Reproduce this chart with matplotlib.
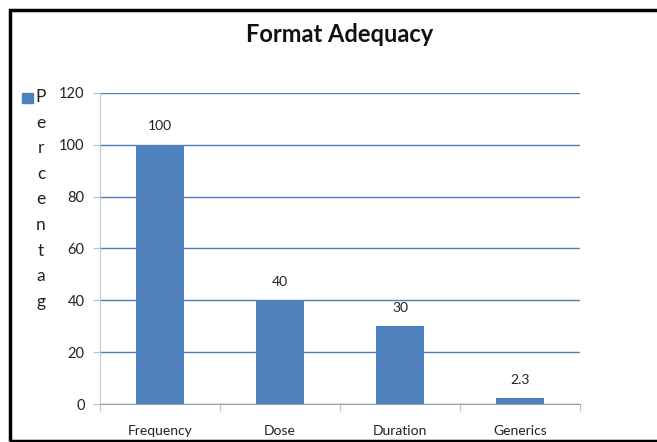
import matplotlib
matplotlib.use("Agg")
import matplotlib.pyplot as plt
from matplotlib.patches import Rectangle

categories = ["Frequency", "Dose", "Duration", "Generics"]
values = [100, 40, 30, 2.3]
value_labels = ["100", "40", "30", "2.3"]
yticks = [0, 20, 40, 60, 80, 100, 120]
title = "Format Adequacy"
legend_label = "Percentag"

plt.rcParams["font.family"] = ["Lato", "DejaVu Sans"]

BAR = "#4f81bd"
GRID = "#4a7ebb"
TXT = "#222222"

W, H = 657, 442
fig = plt.figure(figsize=(W / 100, H / 100), dpi=100)
ax = fig.add_axes([100 / W, 1 - 404 / H, 480 / W, 311 / H])

x = list(range(len(categories)))
ax.bar(x, values, width=0.4, color=BAR, zorder=3)
for xi, v, lab in zip(x, values, value_labels):
    ax.annotate(lab, (xi, v), xytext=(0, 9), textcoords="offset points",
                ha="center", va="bottom", fontsize=10, color=TXT)

ax.set_xlim(-0.5, len(categories) - 0.5)
ax.set_ylim(0, 120)
ax.set_yticks(yticks)
ax.set_yticklabels([str(t) for t in yticks], fontsize=10.5, color=TXT)
ax.yaxis.grid(True, color=GRID, linewidth=1.0, zorder=0)
ax.set_axisbelow(True)

ax.set_xticks([i + 0.5 for i in range(-1, len(categories))], minor=False)
ax.set_xticklabels([])
ax.set_xticks(x, minor=True)
ax.set_xticklabels(categories, minor=True, fontsize=10, color=TXT)
ax.tick_params(axis="x", which="major", length=5, color="#bfbfbf", direction="out")
ax.tick_params(axis="x", which="minor", length=0, pad=15)
ax.tick_params(axis="y", length=5, color="#bfbfbf", pad=6)

for side in ("top", "right"):
    ax.spines[side].set_visible(False)
ax.spines["left"].set_color("#c8c8c8")
ax.spines["bottom"].set_color("#a0a0a0")

fig.text(340 / W, 1 - 34 / H, title, ha="center", va="center",
         fontsize=17, fontweight="bold", color="#111111")

# legend: swatch plus the label stacked one letter per line
fig.patches.append(Rectangle((22 / W, 1 - 103 / H), 11 / W, 10 / H,
                             transform=fig.transFigure, color=BAR))
for i, ch in enumerate(legend_label):
    fig.text(41 / W, 1 - (97 + i * 25.6) / H, ch, ha="center", va="center",
             fontsize=12.5, color=TXT)

# outer frame
fig.patches.append(Rectangle((9.5 / W, 1 - 440.5 / H), 700 / W, (440.5 - 9.5) / H,
                             transform=fig.transFigure, fill=False,
                             edgecolor="black", linewidth=2.5))

fig.savefig("out.png", dpi=100)
